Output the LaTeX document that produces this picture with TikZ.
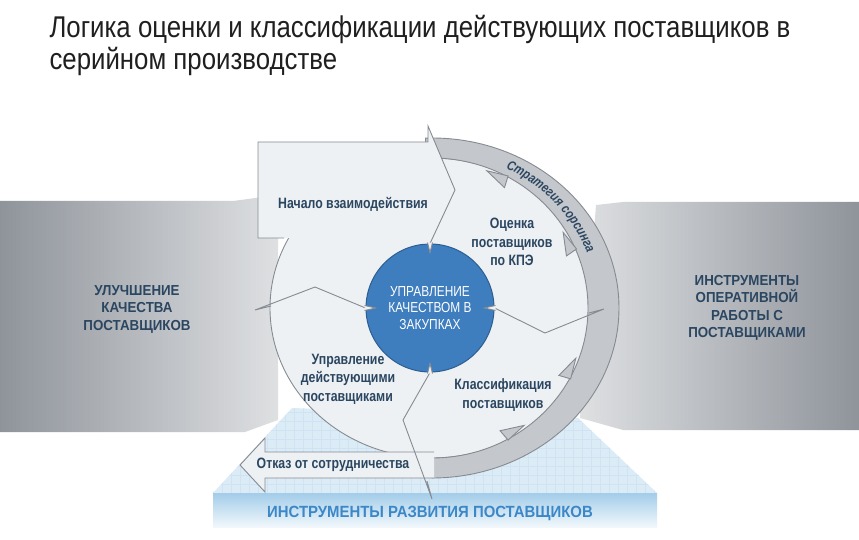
\documentclass[tikz,border=0pt]{standalone}
\usepackage{fontspec}
\setmainfont{Liberation Sans}
\newfontfamily\narrowfont[FakeStretch=0.82]{Liberation Sans}
\newfontfamily\capsfont[FakeStretch=0.92]{Liberation Sans}
\newfontfamily\titlefont[FakeStretch=0.86]{Liberation Sans}
\usepackage{xcolor}
\usepackage{tikz}
\usetikzlibrary{backgrounds}
\usetikzlibrary{positioning}
\usetikzlibrary{decorations.text}
\definecolor{discfill}{HTML}{EEF1F4}
\definecolor{linegray}{HTML}{868B92}
\definecolor{ringfill}{HTML}{C4C7CB}
\definecolor{blockdark}{HTML}{8F949B}
\definecolor{blocklight}{HTML}{DEE0E2}
\definecolor{hubblue}{HTML}{3E7DBE}
\definecolor{hubedge}{HTML}{2D5E91}
\definecolor{labelnavy}{HTML}{2B4661}
\definecolor{platblue}{HTML}{DCECF7}
\definecolor{gridblue}{HTML}{CFE3F2}
\definecolor{barblue}{HTML}{A3CDE9}
\definecolor{bartext}{HTML}{3C87C7}
\tikzset{disc/.style={fill=discfill, draw=linegray, line width=0.9pt, line join=miter}}
\tikzset{ring/.style={fill=ringfill, draw=linegray, line width=0.9pt}}
\tikzset{divider/.style={draw=linegray, line width=0.9pt, line join=miter}}
\tikzset{gridline/.style={draw=gridblue, line width=0.3pt}}
\tikzset{hub/.style={circle, fill=hubblue, draw=hubedge, line width=1pt, minimum size=128pt, inner sep=0pt, text=white, align=center, font=\narrowfont\fontsize{14.5}{16.5}\selectfont}}
\tikzset{sector label/.style={text=labelnavy, align=center, font=\narrowfont\bfseries\fontsize{15}{18.5}\selectfont}}
\tikzset{block label/.style={text=labelnavy, align=center, font=\capsfont\bfseries\fontsize{14.5}{17.5}\selectfont}}
\tikzset{bar label/.style={text=bartext, font=\capsfont\bfseries\fontsize{16.2}{18}\selectfont}}
\tikzset{title/.style={text=black!88, align=left, font=\titlefont\fontsize{30}{32}\selectfont}}

\begin{document}
\begin{tikzpicture}[x=1pt, y=-1pt]
{
\useasboundingbox (0,0) rectangle (859,540);
\fill[white] (0,0) rectangle (859,540);

% side blocks
\shade[left color=blockdark, right color=blocklight] (0,201) -- (233,201) -- (278,195) -- (278,420) -- (245,432) -- (0,432) -- cycle;
\shade[left color=blocklight, right color=blockdark] (596,205) -- (623,202) -- (859,202) -- (859,430) -- (623,430) -- (580,418) -- cycle;

% platform
\begin{scope}
\clip (213,493) -- (292,408) -- (578,418) -- (657,493) -- cycle;
\fill[platblue] (200,400) rectangle (670,495);
\foreach \gx in {213,222,...,657} \draw[gridline] (\gx,400) -- (\gx,495);
\foreach \gy in {403,412,...,493} \draw[gridline] (200,\gy) -- (670,\gy);
\end{scope}
\shade[top color=barblue, bottom color=white!85!barblue] (213,493) rectangle (657,527);

% disc and ring
\filldraw[disc] (432,308) ellipse [x radius=162, y radius=150];
\filldraw[ring] (432,308) ++(-92:187 and 170) arc[start angle=-92, end angle=90, x radius=187, y radius=170] -- (432,458) arc[start angle=90, end angle=-92, x radius=156, y radius=150] -- cycle;
\foreach \a in {-64,-26,25,58}
  \filldraw[ring, shift={(432,308)}] (\a+3:157 and 151) -- (\a+4:145 and 139) -- (\a-5:153 and 147) -- cycle;
\path[decorate, decoration={text along path, text align=center, text={|\narrowfont\bfseries\itshape\fontsize{13.5}{14}\selectfont\color{labelnavy}|Стратегия сорсинга}}] (432,308) ++(-68:166 and 156) arc[start angle=-68, end angle=-16, x radius=166, y radius=156];

% exit arrow
\filldraw[disc] (434,452) -- (265,452) -- (265,438) -- (240,465) -- (265,492) -- (265,478) -- (434,478);

\node[hub] (hub) at (430,308) {УПРАВЛЕНИЕ\\КАЧЕСТВОМ В\\ЗАКУПКАХ};

\coordinate (topbend) at (455,190);
\coordinate (rightbend) at (545,333);
\coordinate (righttip) at (604,309);
\coordinate (rightback) at (589,313);
\coordinate (bottombend) at (403,420);
\coordinate (bottomtip) at (432,499);
\coordinate (bottomback) at (427,481);
\coordinate (leftbend) at (315,287);
\coordinate (lefttip) at (255,310);
\coordinate (leftback) at (271,306);

% start arrow
\filldraw[disc] (284,238) -- (258,238) -- (258,142) -- (428,142) -- (428,126) -- (topbend) -- (hub.north);

\draw[divider] (hub.east) -- (rightbend) -- (righttip) -- (rightback);
\draw[divider] (hub.south) -- (bottombend) -- (bottomtip) -- (bottomback);
\draw[divider] (hub.west) -- (leftbend) -- (lefttip) -- (leftback);

% tips poking into the hub
\filldraw[disc, shift={(hub.north)}] (-2.5,-1) -- (0,9) -- (2.5,-1);
\filldraw[disc, shift={(hub.east)}] (1,-2.5) -- (-10,0) -- (1,2.5);
\filldraw[disc, shift={(hub.south)}] (-2.5,1) -- (0,-9) -- (2.5,1);
\filldraw[disc, shift={(hub.west)}] (-1,-2.5) -- (10,0) -- (-1,2.5);

\node[title, anchor=north west] (heading) at (46,12) {Логика оценки и классификации действующих поставщиков в\\серийном производстве};

\node[sector label] (start) at (353,204) {Начало взаимодействия};
\node[sector label] (rating) at (512,242) {Оценка\\поставщиков\\по КПЭ};
\node[sector label] (current) at (348,379) {Управление\\действующими\\поставщиками};
\node[sector label] (classes) at (503,395) {Классификация\\поставщиков};
\node[sector label] (exit) at (333,465) {Отказ от сотрудничества};
\node[block label] (improve) at (137,309) {УЛУЧШЕНИЕ\\КАЧЕСТВА\\ПОСТАВЩИКОВ};
\node[block label] (tools) at (747,308) {ИНСТРУМЕНТЫ\\ОПЕРАТИВНОЙ\\РАБОТЫ С\\ПОСТАВЩИКАМИ};
\node[bar label] (develop) at (430,513) {ИНСТРУМЕНТЫ РАЗВИТИЯ ПОСТАВЩИКОВ};
}
\end{tikzpicture}
\end{document}
